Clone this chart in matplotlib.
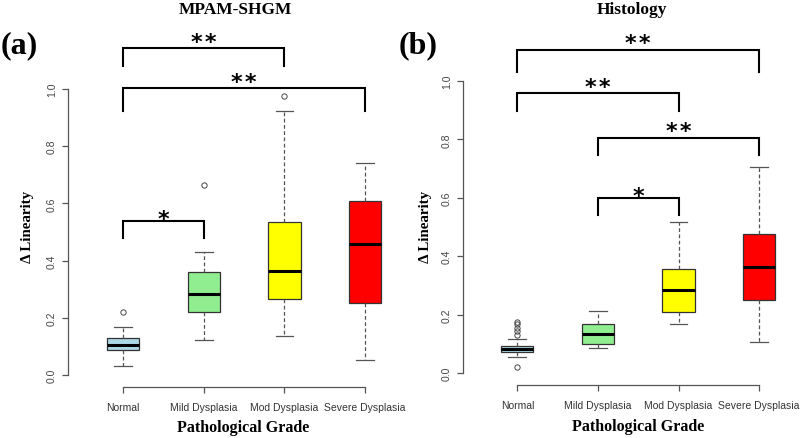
import numpy as np
import matplotlib
matplotlib.use('Agg')
import matplotlib.pyplot as plt
from matplotlib.transforms import offset_copy
from matplotlib.textpath import TextPath
from matplotlib.font_manager import FontProperties

#categories and colours
grades = ['Normal', 'Mild Dysplasia', 'Mod Dysplasia', 'Severe Dysplasia']
box_cols = ['#ADD8E6', '#90EE90', '#FFFF00', '#FF0000']
yticks = [0.0, 0.2, 0.4, 0.6, 0.8, 1.0]

#(a) MPAM-SHGM box stats
a_whislo = [0.031, 0.124, 0.136, 0.052]
a_q1 = [0.087, 0.221, 0.267, 0.251]
a_med = [0.106, 0.284, 0.364, 0.459]
a_q3 = [0.128, 0.361, 0.534, 0.607]
a_whishi = [0.169, 0.429, 0.924, 0.741]
a_fliers = [[0.22], [0.665], [0.976], []]

#(b) Histology box stats
b_whislo = [0.055, 0.086, 0.167, 0.108]
b_q1 = [0.072, 0.101, 0.208, 0.250]
b_med = [0.083, 0.134, 0.284, 0.364]
b_q3 = [0.093, 0.170, 0.355, 0.476]
b_whishi = [0.117, 0.213, 0.518, 0.707]
b_fliers = [[0.023, 0.132, 0.146, 0.156, 0.168, 0.176], [], [], []]

#significance brackets: (from, to, top, leg bottom, label)
a_sig = [(1, 3, 1.142, 1.081, '**'),
         (1, 4, 1.002, 0.923, '**'),
         (1, 2, 0.537, 0.478, '*')]
b_sig = [(1, 4, 1.105, 1.031, '**'),
         (1, 3, 0.957, 0.897, '**'),
         (2, 4, 0.805, 0.746, '**'),
         (2, 3, 0.599, 0.541, '*')]

W, H = 800, 439
fig = plt.figure(figsize=(8, 4.39), dpi=100)
axcol = '#555555'
sans = 'Liberation Sans'
serif = 'Liberation Serif'
starsize = 16
starfp = FontProperties(family='DejaVu Sans', weight='bold', size=starsize)
sext = TextPath((0, 0), '*', prop=starfp).get_extents()
star_mid = (sext.y0 + sext.y1) / 2.0   #ink centre above baseline, points


def px_axes(x0, x1, y0, y1):
    #pixel box -> figure fraction (y0 top, y1 bottom)
    return fig.add_axes([x0 / W, 1 - y1 / H, (x1 - x0) / W, (y1 - y0) / H])


def panel(ax, lo, q1, med, q3, hi, fl, sig, xlim, ylim):
    stats = []
    for i in range(4):
        stats.append({'whislo': lo[i], 'q1': q1[i], 'med': med[i], 'q3': q3[i],
                      'whishi': hi[i], 'fliers': fl[i]})
    bp = ax.bxp(stats, positions=[1, 2, 3, 4], widths=0.4, patch_artist=True,
                capwidths=0.22,
                boxprops=dict(edgecolor='#333333', linewidth=0.9),
                medianprops=dict(color='black', linewidth=2.2),
                whiskerprops=dict(color='#555555', linewidth=0.9, linestyle=(0, (3, 2))),
                capprops=dict(color='#555555', linewidth=0.9),
                flierprops=dict(marker='o', markersize=3.8, markerfacecolor='none',
                                markeredgecolor='#444444', markeredgewidth=0.7))
    for patch, c in zip(bp['boxes'], box_cols):
        patch.set_facecolor(c)
    ax.set_xlim(*xlim)
    ax.set_ylim(*ylim)
    for s in ['top', 'right']:
        ax.spines[s].set_visible(False)
    ax.spines['left'].set_bounds(0, 1.0)
    ax.spines['bottom'].set_bounds(1, 4)
    for s in ['left', 'bottom']:
        ax.spines[s].set_color(axcol)
        ax.spines[s].set_linewidth(0.9)
    ax.set_xticks([1, 2, 3, 4])
    ax.set_xticklabels(grades, fontfamily=sans, fontsize=7.5, color='#333333')
    ax.set_yticks(yticks)
    ax.set_yticklabels(['%.1f' % v for v in yticks], fontfamily=sans, fontsize=7.5,
                       color='#444444', rotation=90, va='center')
    ax.tick_params(axis='both', color=axcol, length=4, width=0.9)
    ax.tick_params(axis='x', pad=7)
    ax.tick_params(axis='y', pad=4)
    ax.patch.set_visible(False)
    for x1, x2, top, bot, lab in sig:
        ax.plot([x1, x1, x2, x2], [bot, top, top, bot], color='black', lw=1.5,
                clip_on=False, solid_joinstyle='miter')
        #star centre sits ~12px (double) or ~7.5px (single) above the bracket
        above = 12 if lab == '**' else 7.5
        dy = above * 0.72 - star_mid
        tr = offset_copy(ax.transData, fig=fig, x=0, y=dy, units='points')
        ax.text((x1 + x2) / 2, top, lab.replace('**', '*\u200a*'), ha='center',
                va='baseline', fontproperties=starfp, transform=tr, clip_on=False)


#left panel
axa = px_axes(68, 418.4, 86, 388)
panel(axa, a_whislo, a_q1, a_med, a_q3, a_whishi, a_fliers, a_sig,
      (0.318, 4.66), (-0.042, 1.014))

#right panel
axb = px_axes(463, 800, 78, 385.7)
panel(axb, b_whislo, b_q1, b_med, b_q3, b_whishi, b_fliers, b_sig,
      (0.326, 4.507), (-0.039, 1.013))

#titles and labels in pixel positions
def ftext(x, y, s, **kw):
    fig.text(x / W, 1 - y / H, s, **kw)

ftext(235, 10, 'MPAM-SHGM', ha='center', va='center', fontfamily=serif,
      fontweight='bold', fontsize=12.5)
ftext(632, 10, 'Histology', ha='center', va='center', fontfamily=serif,
      fontweight='bold', fontsize=12.5)
ftext(19, 46, '(a)', ha='center', va='center', fontfamily=serif,
      fontweight='bold', fontsize=23)
ftext(418, 46, '(b)', ha='center', va='center', fontfamily=serif,
      fontweight='bold', fontsize=23)
ftext(28, 227, '\u0394 Linearity', ha='center', va='center', rotation=90,
      fontfamily=serif, fontweight='bold', fontsize=10.8)
ftext(425, 227, '\u0394 Linearity', ha='center', va='center', rotation=90,
      fontfamily=serif, fontweight='bold', fontsize=10.8)
ftext(243, 428, 'Pathological Grade', ha='center', va='center',
      fontfamily=serif, fontweight='bold', fontsize=11.5)
ftext(638, 427, 'Pathological Grade', ha='center', va='center',
      fontfamily=serif, fontweight='bold', fontsize=11.5)

fig.savefig('out.png', dpi=100, facecolor='white')
